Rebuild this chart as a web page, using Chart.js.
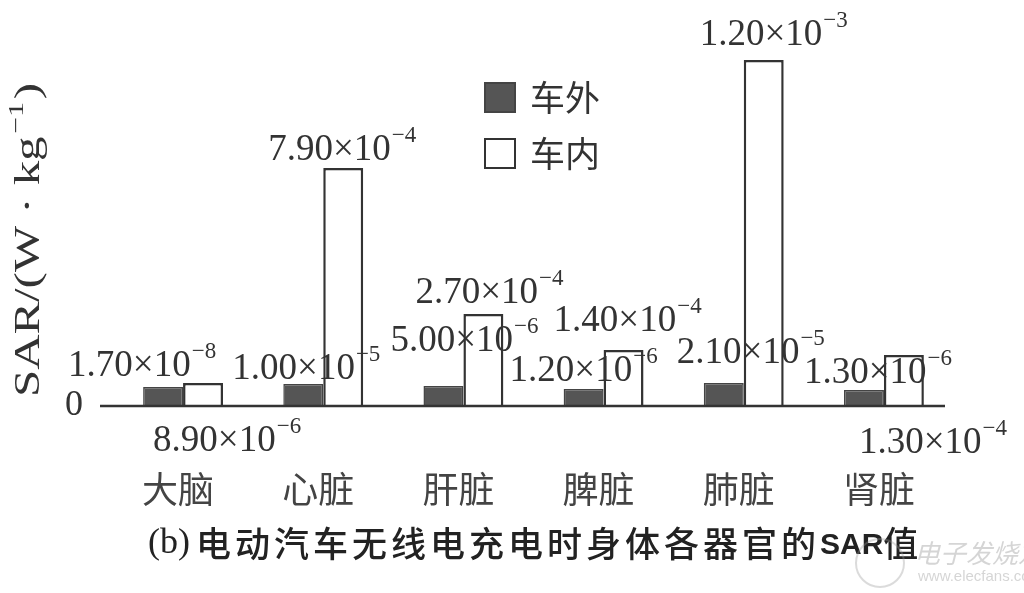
<!DOCTYPE html>
<html>
<head>
<meta charset="utf-8">
<script src="https://cdn.jsdelivr.net/npm/chart.js@4.4.1/dist/chart.umd.min.js"></script>
<style>
  html, body { margin: 0; padding: 0; background: #fff; }
  #wrap { width: 1024px; height: 593px; }
</style>
</head>
<body>
<div id="wrap"><canvas id="sarChart" width="1024" height="593"></canvas></div>
<script>
// organs and series (bar heights are as drawn, the figure is not to scale)
const organs = ['大脑', '心脏', '肝脏', '脾脏', '肺脏', '肾脏'];
const seriesNames = ['车外', '车内'];
const outsideValues = [19, 22, 20, 17, 23, 16];
const insideValues = [23, 238, 92, 56, 346, 51];
// value annotations printed on the figure, mantissa^exponent
const outsideLabels = ['1.70×10^−8', '1.00×10^−5', '5.00×10^−6', '1.20×10^−6', '2.10×10^−5', '1.30×10^−6'];
const insideLabels = ['8.90×10^−6', '7.90×10^−4', '2.70×10^−4', '1.40×10^−4', '1.20×10^−3', '1.30×10^−4'];
const yTickLabels = ['0'];

const SERIF = '"Liberation Serif", "DejaVu Serif", serif';
const CJK = '"Noto Sans CJK SC", "Noto Sans", sans-serif';
const INK = '#333';

// where each annotation sits, relative to the top centre of its bar (left edge, middle)
const labelOffsets = [
  [[-95, -21], [-71, -15], [-53, -45], [-74, -18], [-47, -30], [-60, -17]],
  [[-50, 58], [-75, -18], [-68, -21], [-70, -29], [-64, -25], [-45, 88]]
];

function drawSci(ctx, x, cy, str) {
  const parts = str.split('^');
  ctx.textAlign = 'left';
  ctx.textBaseline = 'middle';
  ctx.font = '37px ' + SERIF;
  ctx.fillText(parts[0], x, cy);
  const w = ctx.measureText(parts[0]).width;
  ctx.font = '23px ' + SERIF;
  ctx.fillText(parts[1], x + w + 1, cy - 14);
}

const annotations = {
  id: 'annotations',
  afterDatasetsDraw(chart) {
    const ctx = chart.ctx;
    const y0 = chart.scales.y.getPixelForValue(0);
    ctx.save();
    ctx.fillStyle = INK;
    ctx.strokeStyle = INK;

    // baseline
    ctx.lineWidth = 2.5;
    ctx.beginPath();
    ctx.moveTo(chart.chartArea.left - 13, y0);
    ctx.lineTo(chart.chartArea.right - 9, y0);
    ctx.stroke();

    // value labels
    [outsideLabels, insideLabels].forEach((labels, di) => {
      const meta = chart.getDatasetMeta(di);
      labels.forEach((txt, i) => {
        const bar = meta.data[i];
        const off = labelOffsets[di][i];
        drawSci(ctx, bar.x + off[0], bar.y + off[1], txt);
      });
    });

    // legend
    const ds = chart.data.datasets;
    const lx = 485, ly = [83, 139];
    ds.forEach((d, i) => {
      ctx.fillStyle = d.backgroundColor;
      ctx.fillRect(lx, ly[i], 30, 29);
      ctx.lineWidth = 2;
      ctx.strokeStyle = d.borderColor;
      ctx.strokeRect(lx, ly[i], 30, 29);
      ctx.fillStyle = INK;
      ctx.font = '35px ' + CJK;
      ctx.textAlign = 'left';
      ctx.textBaseline = 'middle';
      ctx.fillText(d.label, 530, ly[i] + 15);
    });

    // y axis title, rotated
    ctx.save();
    ctx.translate(30, 397);
    ctx.rotate(-Math.PI / 2);
    ctx.font = '36px ' + SERIF;
    const t1 = 'SAR/(W · kg';
    const w1 = ctx.measureText(t1).width;
    ctx.font = '22px ' + SERIF;
    const w2 = ctx.measureText('−1').width;
    ctx.font = '36px ' + SERIF;
    const w3 = ctx.measureText(')').width;
    const sx = 314 / (w1 + w2 + w3 + 4);
    ctx.scale(sx, 1);
    ctx.textAlign = 'left';
    ctx.textBaseline = 'middle';
    ctx.fillText(t1, 0, 0);
    ctx.font = '22px ' + SERIF;
    ctx.fillText('−1', w1 + 2, -13);
    ctx.font = '36px ' + SERIF;
    ctx.fillText(')', w1 + w2 + 4, 0);
    ctx.restore();

    // caption
    let cx = 148;
    const cy = 544;
    ctx.textAlign = 'left';
    ctx.textBaseline = 'middle';
    ctx.fillStyle = '#222';
    ctx.font = '36px ' + SERIF;
    ctx.fillText('(b)', cx, cy);
    cx += ctx.measureText('(b)').width + 6;
    ctx.font = '500 35px ' + CJK;
    ctx.letterSpacing = '4px';
    const cap = '电动汽车无线电充电时身体各器官的';
    ctx.fillText(cap, cx, cy);
    cx += ctx.measureText(cap).width;
    ctx.letterSpacing = '0px';
    ctx.font = 'bold 30px "Liberation Sans", sans-serif';
    ctx.fillText('SAR', cx, cy + 2);
    cx += ctx.measureText('SAR').width;
    ctx.font = '500 35px ' + CJK;
    ctx.fillText('值', cx, cy);

    // watermark
    ctx.globalAlpha = 0.35;
    ctx.strokeStyle = '#999';
    ctx.lineWidth = 2;
    ctx.beginPath();
    ctx.arc(880, 563, 24, 0, Math.PI * 2);
    ctx.stroke();
    ctx.fillStyle = '#888';
    ctx.font = 'italic 26px ' + CJK;
    ctx.fillText('电子发烧友', 914, 553);
    ctx.font = '15px "Liberation Sans", sans-serif';
    ctx.fillText('www.elecfans.com', 918, 577);
    ctx.restore();
  }
};

new Chart(document.getElementById('sarChart'), {
  type: 'bar',
  data: {
    labels: organs,
    datasets: [{
      label: seriesNames[0],
      data: outsideValues,
      backgroundColor: '#555555',
      borderColor: '#444444',
      borderWidth: 1.5
    }, {
      label: seriesNames[1],
      data: insideValues,
      backgroundColor: '#ffffff',
      borderColor: '#333333',
      borderWidth: 2.5
    }]
  },
  options: {
    responsive: false,
    animation: false,
    categoryPercentage: 0.57,
    barPercentage: 1.0,
    layout: { padding: { left: 0, right: 70, top: 6, bottom: 0 } },
    plugins: {
      legend: { display: false },
      tooltip: { enabled: false }
    },
    scales: {
      x: {
        grid: { display: false, drawTicks: false },
        border: { display: false },
        ticks: { font: { family: CJK, size: 36 }, color: '#444', padding: 62, labelOffset: -5 },
        afterFit: (s) => { s.height = 187; s.paddingLeft = 0; s.paddingRight = 0; }
      },
      y: {
        min: 0,
        max: 400,
        grid: { display: false, drawTicks: false },
        border: { display: false },
        ticks: {
          stepSize: 100,
          padding: 30,
          color: INK,
          font: { family: SERIF, size: 36 },
          callback: (v) => (v === 0 ? yTickLabels[0] : '')
        },
        afterFit: (s) => { s.width = 113; s.paddingTop = 0; s.paddingBottom = 0; }
      }
    }
  },
  plugins: [annotations]
});
</script>
</body>
</html>
